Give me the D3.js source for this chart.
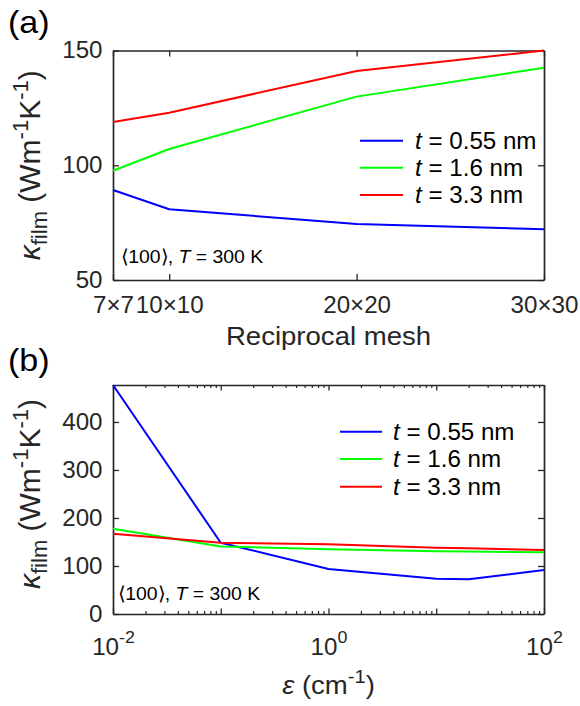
<!DOCTYPE html>
<html><head><meta charset="utf-8">
<script src="https://cdn.jsdelivr.net/npm/d3@7"></script>
<style>
html,body{margin:0;padding:0;background:#fff;}
svg{display:block;}
</style></head><body>
<svg id="fig" width="580" height="706"></svg>
<script>
// Panel (a): thermal conductivity vs reciprocal mesh density
const meshN = [7, 10, 20, 30];
const meshLabels = ["7×7", "10×10", "20×20", "30×30"];
const kMesh055 = [89.2, 80.8, 74.4, 72.1];
const kMesh16 = [97.6, 107.1, 129.9, 142.5];
const kMesh33 = [118.8, 122.9, 141.1, 150.0];
const meshYTicks = [50, 100, 150];

// Panel (b): thermal conductivity vs smearing parameter epsilon
const epsVals = [0.01, 0.1, 1, 10, 20, 100];
const kEps055 = [477, 148.5, 93.7, 73.6, 72.3, 91.7];
const kEps16 = [177.8, 140.8, 134.7, 130.5, 130.0, 128.5];
const kEps33 = [167.3, 148.6, 145.2, 138.0, 136.8, 133.3];
const epsYTicks = [0, 100, 200, 300, 400];
const epsMajor = [0.01, 0.1, 1, 10, 100];
const epsLabelled = [0.01, 1, 100];

const thickness = ["0.55", "1.6", "3.3"];
const colors = ["#0000ff", "#00ff00", "#ff0000"];

const FONT = '"Liberation Sans", Arial, Helvetica, sans-serif';
const AX = "#262626";
const SX = 1.05;          // horizontal glyph stretch
const TICK_FS = 23, LABEL_FS = 26;

const svg = d3.select("#fig").attr("font-family", FONT);

// Rich text: runs of {t, it, fs, dy}
function richText(parent, transform, anchor, runs, fill) {
  const t = parent.append("text")
    .attr("transform", transform)
    .attr("text-anchor", anchor)
    .attr("fill", fill || "#000")
    .attr("font-family", FONT);
  let prev = 0;
  runs.forEach(r => {
    const shift = r.dy || 0;
    t.append("tspan")
      .attr("dy", shift - prev)
      .attr("font-size", r.fs)
      .attr("font-style", r.it ? "italic" : "normal")
      .text(r.t);
    prev = shift;
  });
  return t;
}

function styleAxis(g) {
  g.attr("font-family", FONT).attr("font-size", TICK_FS);
  g.select(".domain").attr("stroke", AX).attr("stroke-width", 1.7);
  g.selectAll(".tick line").attr("stroke", AX).attr("stroke-width", 1.3);
  g.selectAll(".tick text").attr("fill", AX).attr("transform", `scale(${SX},1)`);
}

function drawFrame(top, bottom, left, right, opts) {
  const gB = svg.append("g").attr("transform", `translate(0,${bottom})`).call(opts.bottom);
  const gT = svg.append("g").attr("transform", `translate(0,${top})`).call(opts.top);
  const gL = svg.append("g").attr("transform", `translate(${left},0)`).call(opts.left);
  const gR = svg.append("g").attr("transform", `translate(${right},0)`).call(opts.right);
  [gB, gT, gL, gR].forEach(styleAxis);
  return {gB, gT, gL, gR};
}

function drawLines(x, y, xs, series) {
  const line = d3.line().x((d, i) => x(xs[i])).y(d => y(d));
  series.forEach((s, i) => {
    svg.append("path").datum(s)
      .attr("fill", "none")
      .attr("stroke", colors[i])
      .attr("stroke-width", 2)
      .attr("stroke-linejoin", "round")
      .attr("d", line);
  });
}

function drawLegend(lx0, lx1, tx, rows) {
  thickness.forEach((th, i) => {
    svg.append("line")
      .attr("x1", lx0).attr("x2", lx1)
      .attr("y1", rows[i]).attr("y2", rows[i])
      .attr("stroke", colors[i]).attr("stroke-width", 2);
    richText(svg, `translate(${tx},${rows[i] + 8}) scale(${SX},1)`, "start", [
      {t: "t", it: true, fs: TICK_FS},
      {t: " = " + th + " nm", fs: TICK_FS}
    ]);
  });
}

function orientNote(x, y) {
  richText(svg, `translate(${x},${y}) scale(${SX},1)`, "start", [
    {t: "\u27E8100\u27E9, ", fs: 18.5},
    {t: "T", it: true, fs: 18.5},
    {t: " = 300 K", fs: 18.5}
  ]);
}

function kappaLabel(x, y) {
  richText(svg, `translate(${x},${y}) rotate(-90)`, "middle", [
    {t: "\u03BA", it: true, fs: 30},
    {t: "film", fs: 22, dy: 7},
    {t: " (Wm", fs: 30},
    {t: "-1", fs: 22, dy: -12},
    {t: "K", fs: 30},
    {t: "-1", fs: 22, dy: -12},
    {t: ")", fs: 30}
  ], AX);
}

const L = 113, R = 544;

// ---------- Panel (a) ----------
const aTop = 50.5, aBot = 280;
const xA = d3.scaleLinear().domain([meshN[0], meshN[meshN.length - 1]]).range([L, R]);
const yA = d3.scaleLinear().domain([meshYTicks[0], meshYTicks[meshYTicks.length - 1]]).range([aBot, aTop]);

drawFrame(aTop, aBot, L, R, {
  bottom: d3.axisBottom(xA).tickValues(meshN)
    .tickFormat((d, i) => meshLabels[i]).tickSizeInner(-6).tickSizeOuter(0).tickPadding(17),
  top: d3.axisTop(xA).tickValues(meshN).tickFormat("").tickSizeInner(-6).tickSizeOuter(0),
  left: d3.axisLeft(yA).tickValues(meshYTicks).tickSizeInner(-6).tickSizeOuter(0).tickPadding(10),
  right: d3.axisRight(yA).tickValues(meshYTicks).tickFormat("").tickSizeInner(-6).tickSizeOuter(0)
});
drawLines(xA, yA, meshN, [kMesh055, kMesh16, kMesh33]);
drawLegend(360, 403, 415, [140.7, 167.7, 195]);
orientNote(121, 263);
kappaLabel(40, (aTop + aBot) / 2);
richText(svg, `translate(${(L + R) / 2},345) scale(1.06,1)`, "middle",
  [{t: "Reciprocal mesh", fs: LABEL_FS}], AX);
richText(svg, `translate(8,33) scale(1.1,1)`, "start", [{t: "(a)", fs: 31}], "#000");

// ---------- Panel (b) ----------
const bTop = 385, bBot = 614;
const xB = d3.scaleLog().domain([epsMajor[0], epsMajor[epsMajor.length - 1]]).range([L, R]);
const allB = kEps055.concat(kEps16, kEps33);
const yB = d3.scaleLinear().domain([0, d3.max(allB)]).range([bBot, bTop]);
const minorB = xB.ticks().filter(v => !epsMajor.some(m => Math.abs(m - v) / m < 1e-6));

const fb = drawFrame(bTop, bBot, L, R, {
  bottom: d3.axisBottom(xB).tickValues(epsMajor).tickFormat("")
    .tickSizeInner(-5.5).tickSizeOuter(0).tickPadding(25),
  top: d3.axisTop(xB).tickValues(epsMajor).tickFormat("").tickSizeInner(-5.5).tickSizeOuter(0),
  left: d3.axisLeft(yB).tickValues(epsYTicks).tickSizeInner(-6).tickSizeOuter(0).tickPadding(10),
  right: d3.axisRight(yB).tickValues(epsYTicks).tickFormat("").tickSizeInner(-6).tickSizeOuter(0)
});
// Power-of-ten labels with superscript exponents
fb.gB.selectAll(".tick text").each(function(d) {
  if (!epsLabelled.some(v => Math.abs(v - d) / v < 1e-6)) return;
  const t = d3.select(this);
  const e = Math.round(Math.log10(d));
  t.append("tspan").text("10");
  t.append("tspan").attr("dy", -12).attr("font-size", 17).text(e < 0 ? "-" + (-e) : String(e));
});
// Minor log ticks on bottom and top
[bBot, bTop].forEach((yy, k) => {
  const ax = k === 0 ? d3.axisBottom : d3.axisTop;
  const g = svg.append("g").attr("transform", `translate(0,${yy})`)
    .call(ax(xB).tickValues(minorB).tickFormat("").tickSizeInner(-3).tickSizeOuter(0));
  g.select(".domain").remove();
  g.selectAll(".tick line").attr("stroke", AX).attr("stroke-width", 1.2);
});

drawLines(xB, yB, epsVals, [kEps055, kEps16, kEps33]);
drawLegend(340, 382, 393, [431.7, 459, 486.7]);
orientNote(118, 600);
kappaLabel(40, 494);
richText(svg, `translate(${(L + R) / 2},694) scale(1.06,1)`, "middle", [
  {t: "\u03B5", it: true, fs: LABEL_FS},
  {t: " (cm", fs: LABEL_FS},
  {t: "-1", fs: 19, dy: -11},
  {t: ")", fs: LABEL_FS}
], AX);
richText(svg, `translate(8,371) scale(1.1,1)`, "start", [{t: "(b)", fs: 31}], "#000");
</script>
</body></html>
